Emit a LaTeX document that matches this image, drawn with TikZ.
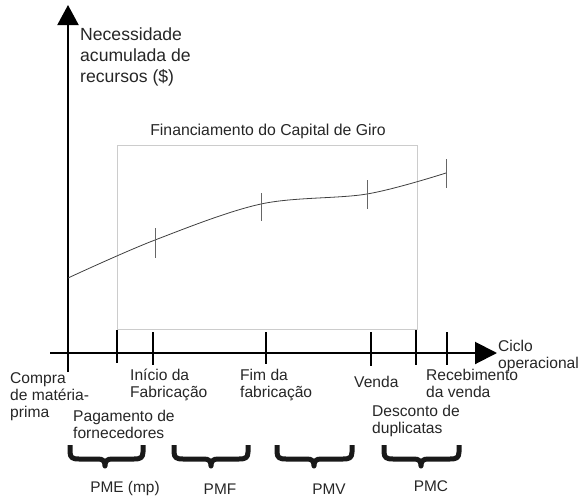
\documentclass[tikz,border=0pt]{standalone}
\usepackage{fontspec}
\setmainfont{Liberation Sans}
\usetikzlibrary{arrows.meta}
\begin{document}
\begin{tikzpicture}[x=1pt,y=-1pt,
  axis/.style={line width=2pt,black},
  tick/.style={line width=1.6pt,black},
  ctick/.style={line width=0.8pt,black!60},
  lbl/.style={inner sep=0pt,anchor=north west,align=left,text=black!85,font=\fontsize{15.6}{17}\selectfont},
  blbl/.style={inner sep=0pt,anchor=center,text=black!85,font=\fontsize{15.4}{17}\selectfont},
  bigbrace/.style={line width=5pt,black!90,line join=round},
]
\useasboundingbox (0,0) rectangle (578,498);
% box
\draw[black!20,line width=1pt] (117,145) rectangle (417,329);
% axes
\coordinate (yb) at (68,372);
\coordinate (yt) at (68,5);
\coordinate (xl) at (50,353);
\coordinate (xr) at (497,353);
\draw[axis,-{Triangle[length=20pt,width=21pt]}] (yb) -- (yt);
\draw[axis,-{Triangle[length=22pt,width=22pt]}] (xl) -- (xr);
% x ticks
\foreach \x/\a/\b in {117/330/363,153/332/365,266/332/364,371/332/366,416/330/365,447/332/365}
  \draw[tick] (\x,\a) -- (\x,\b);
% curve
\draw[black!75,line width=0.8pt] plot[smooth,tension=0.55] coordinates {(68,278) (155,240) (261,204) (367,194) (446,173)};
\foreach \x/\a/\b in {155/228/258,261/193/221,367/180/209,446/159/188}
  \draw[ctick] (\x,\a) -- (\x,\b);
% texts
\node[inner sep=0pt,anchor=north west,align=left,text=black!85,font=\fontsize{17.6}{21}\selectfont] (ylab) at (80,28) {Necessidade\\acumulada de\\recursos (\$)};
\node[inner sep=0pt,anchor=center,text=black!85,font=\fontsize{15.8}{18}\selectfont] (title) at (268,131) {Financiamento do Capital de Giro};
\node[lbl] (compra) at (10,372) {Compra\\de matéria-\\prima};
\node[lbl] (inicio) at (130,369) {Início da\\Fabricação};
\node[lbl] (fim) at (240,369) {Fim da\\fabricação};
\node[lbl] (pag) at (73,410) {Pagamento de\\fornecedores};
\node[lbl] (venda) at (354,376) {Venda};
\node[lbl] (receb) at (426,369) {Recebimento\\da venda};
\node[lbl] (desc) at (372,405) {Desconto de\\duplicatas};
\node[lbl] (ciclo) at (498,340) {Ciclo\\operacional};
% braces
\foreach \L/\M/\R in {70/105/143, 174/211/248, 277/314/352, 384/421/459}
  \draw[bigbrace] (\L,445) -- (\L,452) .. controls (\L,458) and (\L+3,459) .. (\L+9,459)
     -- (\M-7,459) .. controls (\M-2,459) and (\M,461) .. (\M,466)
     .. controls (\M,461) and (\M+2,459) .. (\M+7,459)
     -- (\R-9,459) .. controls (\R-3,459) and (\R,458) .. (\R,452) -- (\R,445);
\node[blbl] (pme) at (125,489) {PME (mp)};
\node[blbl] (pmf) at (220,489) {PMF};
\node[blbl] (pmv) at (329,489) {PMV};
\node[blbl] (pmc) at (431,486) {PMC};
\end{tikzpicture}
\end{document}
